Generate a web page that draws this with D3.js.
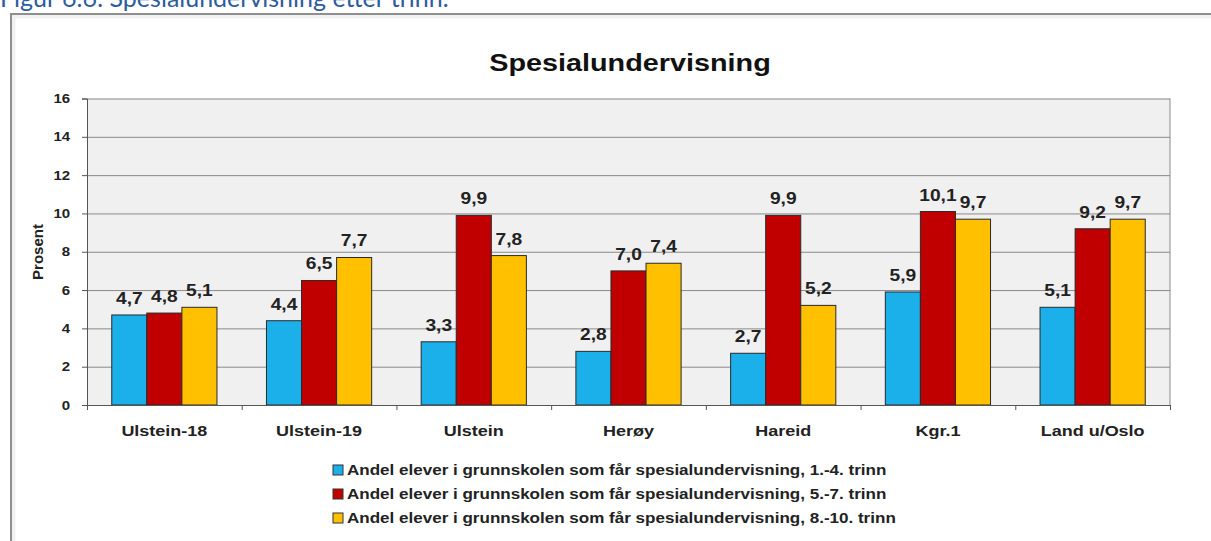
<!DOCTYPE html>
<html>
<head>
<meta charset="utf-8">
<script src="https://cdn.jsdelivr.net/npm/d3@7"></script>
<style>
  body { margin: 0; background: #fff; }
  svg { display: block; }
  text { font-family: "Liberation Sans", Arial, sans-serif; }
</style>
</head>
<body>
<svg width="1211" height="541"></svg>
<script>
var categories = ["Ulstein-18", "Ulstein-19", "Ulstein", "Herøy", "Hareid", "Kgr.1", "Land u/Oslo"];
var seriesNames = [
  "Andel elever i grunnskolen som får spesialundervisning, 1.-4. trinn",
  "Andel elever i grunnskolen som får spesialundervisning, 5.-7. trinn",
  "Andel elever i grunnskolen som får spesialundervisning, 8.-10. trinn"
];
var trinn1_4 = [4.7, 4.4, 3.3, 2.8, 2.7, 5.9, 5.1];
var trinn5_7 = [4.8, 6.5, 9.9, 7.0, 9.9, 10.1, 9.2];
var trinn8_10 = [5.1, 7.7, 7.8, 7.4, 5.2, 9.7, 9.7];
var seriesColors = ["#1cb0ea", "#c00000", "#ffc000"];
var yTicks = [0, 2, 4, 6, 8, 10, 12, 14, 16];

var values = [trinn1_4, trinn5_7, trinn8_10];
var stretch = 1.2; // the source picture is pulled wide

var svg = d3.select("svg");
var plotL = 87, plotR = 1170, plotT = 98.5, plotB = 405;

// outer frame of the figure
svg.append("rect").attr("x", 13).attr("y", 16).attr("width", 1220).attr("height", 560)
  .attr("fill", "none").attr("stroke", "#f1f1f1").attr("stroke-width", 5);
svg.append("rect").attr("x", 11).attr("y", 14).attr("width", 1220).attr("height", 560)
  .attr("fill", "none").attr("stroke", "#8f8f8f").attr("stroke-width", 2);

// caption above (cut off at the top)
svg.append("text").attr("x", 0).attr("y", 7)
  .attr("fill", "#2e5c9e").style("font-family", "Lato, 'Open Sans', sans-serif")
  .style("font-size", "25px")
  .text("Figur 6.6: Spesialundervisning etter trinn.");

var x0 = d3.scaleBand().domain(categories).range([plotL, plotR]).padding(0);
var groupW = x0.bandwidth() * 0.68;
var x1 = d3.scaleBand().domain(d3.range(values.length))
  .range([(x0.bandwidth() - groupW) / 2, (x0.bandwidth() + groupW) / 2]).padding(0);
var y = d3.scaleLinear().domain([0, 16]).range([plotB, plotT]);
var bounds = d3.scaleLinear().domain([0, categories.length]).range([plotL, plotR]);

var fmt = d3.formatLocale({ decimal: ",", thousands: " ", grouping: [3], currency: ["", " kr"] }).format(".1f");

// plot background
svg.append("rect").attr("x", plotL).attr("y", plotT).attr("width", plotR - plotL).attr("height", plotB - plotT)
  .attr("fill", "#f0f0f0");

// gridlines
svg.append("g").attr("transform", "translate(" + plotL + ",0)")
  .call(d3.axisLeft(y).tickValues(yTicks).tickSize(-(plotR - plotL)).tickFormat(""))
  .call(function(g) {
    g.select(".domain").remove();
    g.selectAll("line").attr("stroke", "#8a8a8a");
  });
svg.append("line").attr("x1", plotR).attr("x2", plotR).attr("y1", plotT).attr("y2", plotB)
  .attr("stroke", "#8a8a8a");

// bars
var groups = svg.append("g").selectAll("g")
  .data(categories).enter().append("g")
  .attr("transform", function(d) { return "translate(" + x0(d) + ",0)"; });

groups.selectAll("rect")
  .data(function(d, i) { return values.map(function(s, k) { return { k: k, v: s[i] }; }); })
  .enter().append("rect")
  .attr("x", function(d) { return x1(d.k); })
  .attr("y", function(d) { return y(d.v); })
  .attr("width", x1.bandwidth())
  .attr("height", function(d) { return plotB - y(d.v); })
  .attr("fill", function(d) { return seriesColors[d.k]; })
  .attr("stroke", "#2a2a2a").attr("stroke-width", 1);

// value labels
groups.selectAll("text")
  .data(function(d, i) { return values.map(function(s, k) { return { k: k, v: s[i] }; }); })
  .enter().append("text")
  .attr("transform", function(d) {
    return "translate(" + (x1(d.k) + x1.bandwidth() / 2) + "," + (y(d.v) - 11) + ") scale(" + stretch + ",1)";
  })
  .attr("text-anchor", "middle")
  .attr("fill", "#222").style("font-size", "16px").style("font-weight", "bold")
  .text(function(d) { return fmt(d.v); });

// y axis
svg.append("g").attr("transform", "translate(" + plotL + ",0)")
  .call(d3.axisLeft(y).tickValues(yTicks).tickSize(5).tickPadding(9))
  .call(function(g) {
    g.select(".domain").attr("stroke", "#555");
    g.selectAll("line").attr("stroke", "#555");
    g.selectAll("text").attr("fill", "#222").style("font-size", "12.5px").style("font-weight", "bold")
      .attr("transform", "scale(" + stretch + ",1)");
  });

// x axis: boundary ticks and category labels
svg.append("g").attr("transform", "translate(0," + plotB + ")")
  .call(d3.axisBottom(bounds).tickValues(d3.range(categories.length + 1)).tickSize(5).tickFormat(""))
  .call(function(g) {
    g.select(".domain").attr("stroke", "#555");
    g.selectAll("line").attr("stroke", "#555");
  });
svg.append("g").attr("transform", "translate(0," + plotB + ")")
  .call(d3.axisBottom(x0).tickSize(0).tickPadding(20))
  .call(function(g) {
    g.select(".domain").remove();
    g.selectAll("text").attr("fill", "#222").style("font-size", "15px").style("font-weight", "bold")
      .attr("transform", "scale(" + stretch + ",1)");
  });

// y title
svg.append("text")
  .attr("transform", "translate(43,252) rotate(-90)")
  .attr("text-anchor", "middle")
  .attr("fill", "#222").style("font-size", "15px").style("font-weight", "bold")
  .text("Prosent");

// title
svg.append("text")
  .attr("transform", "translate(630,71) scale(" + stretch + ",1)")
  .attr("text-anchor", "middle")
  .attr("fill", "#111").style("font-size", "24px").style("font-weight", "bold")
  .text("Spesialundervisning");

// legend
var legend = svg.append("g").selectAll("g")
  .data(seriesNames).enter().append("g")
  .attr("transform", function(d, i) { return "translate(333," + (470 + i * 24) + ")"; });
legend.append("rect").attr("x", 0).attr("y", -5).attr("width", 10).attr("height", 10)
  .attr("fill", function(d, i) { return seriesColors[i]; })
  .attr("stroke", "#333").attr("stroke-width", 1);
legend.append("text")
  .attr("transform", "translate(14,5) scale(" + stretch + ",1)")
  .attr("fill", "#222").style("font-size", "14.2px").style("font-weight", "bold")
  .text(function(d) { return d; });
</script>
</body>
</html>
